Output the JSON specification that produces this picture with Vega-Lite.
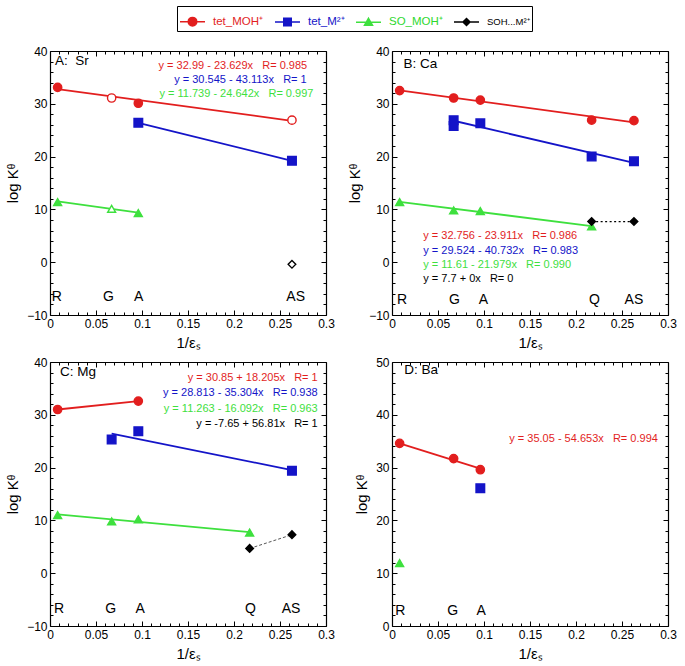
{
  "$schema": "https://vega.github.io/schema/vega-lite/v6.json",
  "padding": {"left": 5, "top": 5, "right": 5, "bottom": 3},
  "datasets": {
    "pts": [
      {"panel": "A", "series": "tet_MOH⁺", "x": 0.0083, "y": 33.1, "hollow": false},
      {"panel": "A", "series": "tet_MOH⁺", "x": 0.067, "y": 31.1, "hollow": true},
      {"panel": "A", "series": "tet_MOH⁺", "x": 0.096, "y": 30.1, "hollow": false},
      {"panel": "A", "series": "tet_MOH⁺", "x": 0.263, "y": 26.9, "hollow": true},
      {"panel": "A", "series": "tet_M²⁺", "x": 0.096, "y": 26.4, "hollow": false},
      {"panel": "A", "series": "tet_M²⁺", "x": 0.263, "y": 19.2, "hollow": false},
      {"panel": "A", "series": "SO_MOH⁺", "x": 0.0083, "y": 11.4, "hollow": false},
      {"panel": "A", "series": "SO_MOH⁺", "x": 0.067, "y": 10.1, "hollow": true},
      {"panel": "A", "series": "SO_MOH⁺", "x": 0.096, "y": 9.3, "hollow": false},
      {"panel": "A", "series": "SOH...M²⁺", "x": 0.263, "y": -0.4, "hollow": true},
      {"panel": "B", "series": "tet_MOH⁺", "x": 0.0083, "y": 32.5, "hollow": false},
      {"panel": "B", "series": "tet_MOH⁺", "x": 0.067, "y": 31.1, "hollow": false},
      {"panel": "B", "series": "tet_MOH⁺", "x": 0.096, "y": 30.7, "hollow": false},
      {"panel": "B", "series": "tet_MOH⁺", "x": 0.217, "y": 26.9, "hollow": false},
      {"panel": "B", "series": "tet_MOH⁺", "x": 0.263, "y": 26.8, "hollow": false},
      {"panel": "B", "series": "tet_M²⁺", "x": 0.067, "y": 26.9, "hollow": false},
      {"panel": "B", "series": "tet_M²⁺", "x": 0.067, "y": 25.8, "hollow": false},
      {"panel": "B", "series": "tet_M²⁺", "x": 0.096, "y": 26.3, "hollow": false},
      {"panel": "B", "series": "tet_M²⁺", "x": 0.217, "y": 20.0, "hollow": false},
      {"panel": "B", "series": "tet_M²⁺", "x": 0.263, "y": 19.1, "hollow": false},
      {"panel": "B", "series": "SO_MOH⁺", "x": 0.0083, "y": 11.4, "hollow": false},
      {"panel": "B", "series": "SO_MOH⁺", "x": 0.067, "y": 9.8, "hollow": false},
      {"panel": "B", "series": "SO_MOH⁺", "x": 0.096, "y": 9.7, "hollow": false},
      {"panel": "B", "series": "SO_MOH⁺", "x": 0.217, "y": 6.8, "hollow": false},
      {"panel": "B", "series": "SOH...M²⁺", "x": 0.217, "y": 7.7, "hollow": false},
      {"panel": "B", "series": "SOH...M²⁺", "x": 0.263, "y": 7.7, "hollow": false},
      {"panel": "C", "series": "tet_MOH⁺", "x": 0.0083, "y": 31.0, "hollow": false},
      {"panel": "C", "series": "tet_MOH⁺", "x": 0.096, "y": 32.6, "hollow": false},
      {"panel": "C", "series": "tet_M²⁺", "x": 0.067, "y": 25.3, "hollow": false},
      {"panel": "C", "series": "tet_M²⁺", "x": 0.096, "y": 26.9, "hollow": false},
      {"panel": "C", "series": "tet_M²⁺", "x": 0.263, "y": 19.4, "hollow": false},
      {"panel": "C", "series": "SO_MOH⁺", "x": 0.0083, "y": 11.0, "hollow": false},
      {"panel": "C", "series": "SO_MOH⁺", "x": 0.067, "y": 9.8, "hollow": false},
      {"panel": "C", "series": "SO_MOH⁺", "x": 0.096, "y": 10.2, "hollow": false},
      {"panel": "C", "series": "SO_MOH⁺", "x": 0.217, "y": 7.7, "hollow": false},
      {"panel": "C", "series": "SOH...M²⁺", "x": 0.217, "y": 4.7, "hollow": false},
      {"panel": "C", "series": "SOH...M²⁺", "x": 0.263, "y": 7.3, "hollow": false},
      {"panel": "D", "series": "tet_MOH⁺", "x": 0.0083, "y": 34.6, "hollow": false},
      {"panel": "D", "series": "tet_MOH⁺", "x": 0.067, "y": 31.7, "hollow": false},
      {"panel": "D", "series": "tet_MOH⁺", "x": 0.096, "y": 29.6, "hollow": false},
      {"panel": "D", "series": "tet_M²⁺", "x": 0.096, "y": 26.1, "hollow": false},
      {"panel": "D", "series": "SO_MOH⁺", "x": 0.0083, "y": 11.9, "hollow": false}
    ],
    "fits": [
      {"panel": "A", "series": "tet_MOH⁺", "x": 0.0083, "y": 32.79},
      {"panel": "A", "series": "tet_MOH⁺", "x": 0.263, "y": 26.78},
      {"panel": "A", "series": "tet_M²⁺", "x": 0.096, "y": 26.41},
      {"panel": "A", "series": "tet_M²⁺", "x": 0.263, "y": 19.21},
      {"panel": "A", "series": "SO_MOH⁺", "x": 0.0083, "y": 11.53},
      {"panel": "A", "series": "SO_MOH⁺", "x": 0.096, "y": 9.37},
      {"panel": "B", "series": "tet_MOH⁺", "x": 0.0083, "y": 32.56},
      {"panel": "B", "series": "tet_MOH⁺", "x": 0.263, "y": 26.47},
      {"panel": "B", "series": "tet_M²⁺", "x": 0.067, "y": 26.79},
      {"panel": "B", "series": "tet_M²⁺", "x": 0.263, "y": 18.81},
      {"panel": "B", "series": "SO_MOH⁺", "x": 0.0083, "y": 11.43},
      {"panel": "B", "series": "SO_MOH⁺", "x": 0.217, "y": 6.84},
      {"panel": "B", "series": "SOH...M²⁺", "x": 0.217, "y": 7.7},
      {"panel": "B", "series": "SOH...M²⁺", "x": 0.263, "y": 7.7},
      {"panel": "C", "series": "tet_MOH⁺", "x": 0.0083, "y": 31.0},
      {"panel": "C", "series": "tet_MOH⁺", "x": 0.096, "y": 32.6},
      {"panel": "C", "series": "tet_M²⁺", "x": 0.067, "y": 26.45},
      {"panel": "C", "series": "tet_M²⁺", "x": 0.263, "y": 19.53},
      {"panel": "C", "series": "SO_MOH⁺", "x": 0.0083, "y": 11.13},
      {"panel": "C", "series": "SO_MOH⁺", "x": 0.217, "y": 7.77},
      {"panel": "C", "series": "SOH...M²⁺", "x": 0.217, "y": 4.68},
      {"panel": "C", "series": "SOH...M²⁺", "x": 0.263, "y": 7.29},
      {"panel": "D", "series": "tet_MOH⁺", "x": 0.0083, "y": 34.6},
      {"panel": "D", "series": "tet_MOH⁺", "x": 0.096, "y": 29.8}
    ],
    "notes": [
      {"panel": "A", "series": "tet_MOH⁺", "x": 0.118, "y": 37.2, "text": "y = 32.99 - 23.629x\u00a0\u00a0\u00a0R= 0.985"},
      {"panel": "A", "series": "tet_M²⁺", "x": 0.135, "y": 34.5, "text": "y = 30.545 - 43.113x\u00a0\u00a0\u00a0R= 1"},
      {"panel": "A", "series": "SO_MOH⁺", "x": 0.119, "y": 31.9, "text": "y = 11.739 - 24.642x\u00a0\u00a0\u00a0R= 0.997"},
      {"panel": "B", "series": "tet_MOH⁺", "x": 0.034, "y": 4.9, "text": "y = 32.756 - 23.911x\u00a0\u00a0\u00a0R= 0.986"},
      {"panel": "B", "series": "tet_M²⁺", "x": 0.034, "y": 2.2, "text": "y = 29.524 - 40.732x\u00a0\u00a0\u00a0R= 0.983"},
      {"panel": "B", "series": "SO_MOH⁺", "x": 0.034, "y": -0.5, "text": "y = 11.61 - 21.979x\u00a0\u00a0\u00a0R= 0.990"},
      {"panel": "B", "series": "SOH...M²⁺", "x": 0.034, "y": -3.2, "text": "y = 7.7 + 0x\u00a0\u00a0\u00a0R= 0"},
      {"panel": "C", "series": "tet_MOH⁺", "x": 0.291, "y": 37.0, "text": "y = 30.85 + 18.205x\u00a0\u00a0\u00a0R= 1"},
      {"panel": "C", "series": "tet_M²⁺", "x": 0.291, "y": 34.2, "text": "y = 28.813 - 35.304x\u00a0\u00a0\u00a0R= 0.938"},
      {"panel": "C", "series": "SO_MOH⁺", "x": 0.291, "y": 31.1, "text": "y = 11.263 - 16.092x\u00a0\u00a0\u00a0R= 0.963"},
      {"panel": "C", "series": "SOH...M²⁺", "x": 0.291, "y": 28.3, "text": "y = -7.65 + 56.81x\u00a0\u00a0\u00a0R= 1"},
      {"panel": "D", "series": "tet_MOH⁺", "x": 0.289, "y": 35.4, "text": "y = 35.05 - 54.653x\u00a0\u00a0\u00a0R= 0.994"}
    ],
    "sites": [
      {"panel": "A", "x": 0.0075, "y": -6.5, "text": "R"},
      {"panel": "A", "x": 0.0636, "y": -6.5, "text": "G"},
      {"panel": "A", "x": 0.0964, "y": -6.5, "text": "A"},
      {"panel": "A", "x": 0.267, "y": -6.5, "text": "AS"},
      {"panel": "B", "x": 0.011, "y": -7.2, "text": "R"},
      {"panel": "B", "x": 0.068, "y": -7.2, "text": "G"},
      {"panel": "B", "x": 0.0995, "y": -7.2, "text": "A"},
      {"panel": "B", "x": 0.22, "y": -7.2, "text": "Q"},
      {"panel": "B", "x": 0.263, "y": -7.2, "text": "AS"},
      {"panel": "C", "x": 0.0098, "y": -6.7, "text": "R"},
      {"panel": "C", "x": 0.066, "y": -6.7, "text": "G"},
      {"panel": "C", "x": 0.098, "y": -6.7, "text": "A"},
      {"panel": "C", "x": 0.218, "y": -6.7, "text": "Q"},
      {"panel": "C", "x": 0.262, "y": -6.7, "text": "AS"},
      {"panel": "D", "x": 0.009, "y": 2.9, "text": "R"},
      {"panel": "D", "x": 0.066, "y": 2.9, "text": "G"},
      {"panel": "D", "x": 0.097, "y": 2.9, "text": "A"}
    ],
    "titles": [
      {"panel": "A", "x": 0.0055, "y": 38.1, "text": "A:\u00a0\u00a0Sr"},
      {"panel": "B", "x": 0.0126, "y": 37.5, "text": "B: Ca"},
      {"panel": "C", "x": 0.011, "y": 38.1, "text": "C: Mg"},
      {"panel": "D", "x": 0.0133, "y": 48.5, "text": "D: Ba"}
    ]
  },
  "columns": 2,
  "spacing": {"row": 47, "column": 66},
  "bounds": "flush",
  "concat": [
    {
      "width": 276, "height": 264,
      "resolve": {"axis": {"x": "independent", "y": "independent"}},
      "layer": [
        {
          "data": {"name": "fits"},
          "transform": [{"filter": "datum.panel === 'A'"}],
          "mark": {"type": "line", "strokeWidth": 1.8},
          "encoding": {
            "x": {"field": "x", "type": "quantitative", "scale": {"domain": [0, 0.3], "nice": false, "zero": false},
              "axis": {"orient": "bottom", "title": "1/εₛ", "values": [0,0.01,0.02,0.03,0.04,0.05,0.06,0.07,0.08,0.09,0.1,0.11,0.12,0.13,0.14,0.15,0.16,0.17,0.18,0.19,0.2,0.21,0.22,0.23,0.24,0.25,0.26,0.27,0.28,0.29,0.3], "format": "~g", "labelExpr": "abs(datum.value*20-round(datum.value*20)) < 0.001 ? datum.label : ''", "tickSize": {"condition": {"test": "abs(datum.value*20-round(datum.value*20)) < 0.001", "value": -5}, "value": -3}, "labelPadding": 8, "labelOverlap": false, "labelFlush": false, "titlePadding": 4}},
            "y": {"field": "y", "type": "quantitative", "scale": {"domain": [-10, 40], "nice": false, "zero": false},
              "axis": {"orient": "left", "title": "log Kᶿ", "values": [-10,-8,-6,-4,-2,0,2,4,6,8,10,12,14,16,18,20,22,24,26,28,30,32,34,36,38,40], "labelExpr": "datum.value % 10 === 0 ? datum.label : ''", "tickSize": {"condition": {"test": "datum.value % 10 === 0", "value": -5}, "value": -3}, "labelPadding": 8, "labelOverlap": false, "titlePadding": 6}},
            "color": {"field": "series", "type": "nominal",
              "scale": {"domain": ["tet_MOH⁺", "tet_M²⁺", "SO_MOH⁺", "SOH...M²⁺"], "range": ["#e21e1e", "#1414c8", "#3ee03e", "#000000"]},
              "legend": {
                "title": null, "orient": "none", "legendX": 127, "legendY": -45, "direction": "horizontal",
                "symbolSize": 625, "symbolStrokeWidth": 1.5, "labelFontSize": 11, "labelOffset": 7, "columnPadding": 8, "padding": 2,
                "strokeColor": "black", "fillColor": "white",
                "encode": {
                  "symbols": {"update": {
                    "shape": {"signal": "datum.value === 'tet_MOH⁺' ? 'M-1,0L1,0M0.34,0A0.34,0.34,0,1,1,-0.34,0A0.34,0.34,0,1,1,0.34,0Z' : datum.value === 'tet_M²⁺' ? 'M-1,0L1,0M-0.3,-0.3L0.3,-0.3L0.3,0.3L-0.3,0.3Z' : datum.value === 'SO_MOH⁺' ? 'M-1,0L1,0M0,-0.32L0.32,0.24L-0.32,0.24Z' : 'M-1,0L1,0M0,-0.28L0.28,0L0,0.28L-0.28,0Z'"},
                    "fill": {"signal": "datum.value === 'tet_MOH⁺' ? '#e21e1e' : datum.value === 'tet_M²⁺' ? '#1414c8' : datum.value === 'SO_MOH⁺' ? '#3ee03e' : '#000000'"},
                    "stroke": {"signal": "datum.value === 'tet_MOH⁺' ? '#e21e1e' : datum.value === 'tet_M²⁺' ? '#1414c8' : datum.value === 'SO_MOH⁺' ? '#3ee03e' : '#000000'"},
                    "strokeWidth": {"value": 1.5},
                    "fillOpacity": {"value": 1},
                    "strokeOpacity": {"value": 1},
                    "opacity": {"value": 1}
                  }},
                  "labels": {"update": {
                    "fill": {"signal": "datum.value === 'tet_MOH⁺' ? '#e21e1e' : datum.value === 'tet_M²⁺' ? '#1414c8' : datum.value === 'SO_MOH⁺' ? '#2ed82e' : '#000000'"},
                    "fontSize": {"signal": "datum.value === 'SOH...M²⁺' ? 9.5 : 11.5"}
                  }}
                }
              }
            }
          }
        },
        {
          "data": {"name": "pts"},
          "transform": [{"filter": "datum.panel === 'A'"}],
          "mark": {"type": "point", "strokeWidth": 1.4, "opacity": 1},
          "encoding": {
            "x": {"field": "x", "type": "quantitative", "axis": {"orient": "top", "title": null, "labels": false, "values": [0,0.01,0.02,0.03,0.04,0.05,0.06,0.07,0.08,0.09,0.1,0.11,0.12,0.13,0.14,0.15,0.16,0.17,0.18,0.19,0.2,0.21,0.22,0.23,0.24,0.25,0.26,0.27,0.28,0.29,0.3], "tickSize": {"condition": {"test": "abs(datum.value*20-round(datum.value*20)) < 0.001", "value": -5}, "value": -3}}},
            "y": {"field": "y", "type": "quantitative", "axis": {"orient": "right", "title": null, "labels": false, "values": [-10,-8,-6,-4,-2,0,2,4,6,8,10,12,14,16,18,20,22,24,26,28,30,32,34,36,38,40], "tickSize": {"condition": {"test": "datum.value % 10 === 0", "value": -5}, "value": -3}}},
            "shape": {"field": "series", "type": "nominal", "scale": {"domain": ["tet_M²⁺", "tet_MOH⁺", "SO_MOH⁺", "SOH...M²⁺"], "range": ["square", "circle", "triangle-up", "diamond"]}, "legend": null},
            "size": {"field": "series", "type": "ordinal", "scale": {"domain": ["tet_M²⁺", "tet_MOH⁺", "SO_MOH⁺", "SOH...M²⁺"], "range": [74, 58, 46, 44]}, "legend": null},
            "stroke": {"field": "series", "type": "nominal", "scale": {"domain": ["tet_M²⁺", "tet_MOH⁺", "SO_MOH⁺", "SOH...M²⁺"], "range": ["#1414c8", "#e21e1e", "#3ee03e", "#000000"]}, "legend": null},
            "fill": {"field": "series", "type": "nominal", "scale": {"domain": ["tet_M²⁺", "tet_MOH⁺", "SO_MOH⁺", "SOH...M²⁺"], "range": ["#1414c8", "#e21e1e", "#3ee03e", "#000000"]}, "legend": null, "condition": {"test": "datum.hollow", "value": "white"}}
          }
        },
        {
          "data": {"name": "notes"},
          "transform": [{"filter": "datum.panel === 'A'"}],
          "mark": {"type": "text", "align": "left", "baseline": "middle", "fontSize": 11},
          "encoding": {
            "x": {"field": "x", "type": "quantitative", "axis": null},
            "y": {"field": "y", "type": "quantitative", "axis": null},
            "text": {"field": "text"},
            "color": {"field": "series", "type": "nominal"}
          }
        },
        {
          "data": {"name": "sites"},
          "transform": [{"filter": "datum.panel === 'A'"}],
          "mark": {"type": "text", "align": "center", "baseline": "middle", "fontSize": 14, "color": "black"},
          "encoding": {
            "x": {"field": "x", "type": "quantitative", "axis": null},
            "y": {"field": "y", "type": "quantitative", "axis": null},
            "text": {"field": "text"}
          }
        },
        {
          "data": {"name": "titles"},
          "transform": [{"filter": "datum.panel === 'A'"}],
          "mark": {"type": "text", "align": "left", "baseline": "middle", "fontSize": 13.5, "color": "black"},
          "encoding": {
            "x": {"field": "x", "type": "quantitative", "axis": null},
            "y": {"field": "y", "type": "quantitative", "axis": null},
            "text": {"field": "text"}
          }
        }
      ]
    },
    {
      "width": 276, "height": 264,
      "resolve": {"axis": {"x": "independent", "y": "independent"}},
      "layer": [
        {
          "data": {"name": "fits"},
          "transform": [{"filter": "datum.panel === 'B' && datum.series !== 'SOH...M²⁺'"}],
          "mark": {"type": "line", "strokeWidth": 1.8},
          "encoding": {
            "x": {"field": "x", "type": "quantitative", "scale": {"domain": [0, 0.3], "nice": false, "zero": false},
              "axis": {"orient": "bottom", "title": "1/εₛ", "values": [0,0.01,0.02,0.03,0.04,0.05,0.06,0.07,0.08,0.09,0.1,0.11,0.12,0.13,0.14,0.15,0.16,0.17,0.18,0.19,0.2,0.21,0.22,0.23,0.24,0.25,0.26,0.27,0.28,0.29,0.3], "format": "~g", "labelExpr": "abs(datum.value*20-round(datum.value*20)) < 0.001 ? datum.label : ''", "tickSize": {"condition": {"test": "abs(datum.value*20-round(datum.value*20)) < 0.001", "value": -5}, "value": -3}, "labelPadding": 8, "labelOverlap": false, "labelFlush": false, "titlePadding": 4}},
            "y": {"field": "y", "type": "quantitative", "scale": {"domain": [-10, 40], "nice": false, "zero": false},
              "axis": {"orient": "left", "title": "log Kᶿ", "values": [-10,-8,-6,-4,-2,0,2,4,6,8,10,12,14,16,18,20,22,24,26,28,30,32,34,36,38,40], "labelExpr": "datum.value % 10 === 0 ? datum.label : ''", "tickSize": {"condition": {"test": "datum.value % 10 === 0", "value": -5}, "value": -3}, "labelPadding": 8, "labelOverlap": false, "titlePadding": 6}},
            "color": {"field": "series", "type": "nominal"}
          }
        },
        {
          "data": {"name": "fits"},
          "transform": [{"filter": "datum.panel === 'B' && datum.series === 'SOH...M²⁺'"}],
          "mark": {"type": "line", "strokeWidth": 1.3, "strokeDash": [2, 2.5], "color": "black"},
          "encoding": {
            "x": {"field": "x", "type": "quantitative", "axis": null},
            "y": {"field": "y", "type": "quantitative", "axis": null}
          }
        },
        {
          "data": {"name": "pts"},
          "transform": [{"filter": "datum.panel === 'B'"}],
          "mark": {"type": "point", "strokeWidth": 1.4, "opacity": 1},
          "encoding": {
            "x": {"field": "x", "type": "quantitative", "axis": {"orient": "top", "title": null, "labels": false, "values": [0,0.01,0.02,0.03,0.04,0.05,0.06,0.07,0.08,0.09,0.1,0.11,0.12,0.13,0.14,0.15,0.16,0.17,0.18,0.19,0.2,0.21,0.22,0.23,0.24,0.25,0.26,0.27,0.28,0.29,0.3], "tickSize": {"condition": {"test": "abs(datum.value*20-round(datum.value*20)) < 0.001", "value": -5}, "value": -3}}},
            "y": {"field": "y", "type": "quantitative", "axis": {"orient": "right", "title": null, "labels": false, "values": [-10,-8,-6,-4,-2,0,2,4,6,8,10,12,14,16,18,20,22,24,26,28,30,32,34,36,38,40], "tickSize": {"condition": {"test": "datum.value % 10 === 0", "value": -5}, "value": -3}}},
            "shape": {"field": "series", "type": "nominal", "legend": null},
            "size": {"field": "series", "type": "ordinal", "legend": null},
            "stroke": {"field": "series", "type": "nominal", "legend": null},
            "fill": {"field": "series", "type": "nominal", "legend": null, "condition": {"test": "datum.hollow", "value": "white"}}
          }
        },
        {
          "data": {"name": "notes"},
          "transform": [{"filter": "datum.panel === 'B'"}],
          "mark": {"type": "text", "align": "left", "baseline": "middle", "fontSize": 11},
          "encoding": {
            "x": {"field": "x", "type": "quantitative", "axis": null},
            "y": {"field": "y", "type": "quantitative", "axis": null},
            "text": {"field": "text"},
            "color": {"field": "series", "type": "nominal"}
          }
        },
        {
          "data": {"name": "sites"},
          "transform": [{"filter": "datum.panel === 'B'"}],
          "mark": {"type": "text", "align": "center", "baseline": "middle", "fontSize": 14, "color": "black"},
          "encoding": {
            "x": {"field": "x", "type": "quantitative", "axis": null},
            "y": {"field": "y", "type": "quantitative", "axis": null},
            "text": {"field": "text"}
          }
        },
        {
          "data": {"name": "titles"},
          "transform": [{"filter": "datum.panel === 'B'"}],
          "mark": {"type": "text", "align": "left", "baseline": "middle", "fontSize": 13.5, "color": "black"},
          "encoding": {
            "x": {"field": "x", "type": "quantitative", "axis": null},
            "y": {"field": "y", "type": "quantitative", "axis": null},
            "text": {"field": "text"}
          }
        }
      ]
    },
    {
      "width": 276, "height": 264,
      "resolve": {"axis": {"x": "independent", "y": "independent"}},
      "layer": [
        {
          "data": {"name": "fits"},
          "transform": [{"filter": "datum.panel === 'C' && datum.series !== 'SOH...M²⁺'"}],
          "mark": {"type": "line", "strokeWidth": 1.8},
          "encoding": {
            "x": {"field": "x", "type": "quantitative", "scale": {"domain": [0, 0.3], "nice": false, "zero": false},
              "axis": {"orient": "bottom", "title": "1/εₛ", "values": [0,0.01,0.02,0.03,0.04,0.05,0.06,0.07,0.08,0.09,0.1,0.11,0.12,0.13,0.14,0.15,0.16,0.17,0.18,0.19,0.2,0.21,0.22,0.23,0.24,0.25,0.26,0.27,0.28,0.29,0.3], "format": "~g", "labelExpr": "abs(datum.value*20-round(datum.value*20)) < 0.001 ? datum.label : ''", "tickSize": {"condition": {"test": "abs(datum.value*20-round(datum.value*20)) < 0.001", "value": -5}, "value": -3}, "labelPadding": 8, "labelOverlap": false, "labelFlush": false, "titlePadding": 4}},
            "y": {"field": "y", "type": "quantitative", "scale": {"domain": [-10, 40], "nice": false, "zero": false},
              "axis": {"orient": "left", "title": "log Kᶿ", "values": [-10,-8,-6,-4,-2,0,2,4,6,8,10,12,14,16,18,20,22,24,26,28,30,32,34,36,38,40], "labelExpr": "datum.value % 10 === 0 ? datum.label : ''", "tickSize": {"condition": {"test": "datum.value % 10 === 0", "value": -5}, "value": -3}, "labelPadding": 8, "labelOverlap": false, "titlePadding": 6}},
            "color": {"field": "series", "type": "nominal"}
          }
        },
        {
          "data": {"name": "fits"},
          "transform": [{"filter": "datum.panel === 'C' && datum.series === 'SOH...M²⁺'"}],
          "mark": {"type": "line", "strokeWidth": 0.9, "strokeDash": [3, 2], "color": "#444444"},
          "encoding": {
            "x": {"field": "x", "type": "quantitative", "axis": null},
            "y": {"field": "y", "type": "quantitative", "axis": null}
          }
        },
        {
          "data": {"name": "pts"},
          "transform": [{"filter": "datum.panel === 'C'"}],
          "mark": {"type": "point", "strokeWidth": 1.4, "opacity": 1},
          "encoding": {
            "x": {"field": "x", "type": "quantitative", "axis": {"orient": "top", "title": null, "labels": false, "values": [0,0.01,0.02,0.03,0.04,0.05,0.06,0.07,0.08,0.09,0.1,0.11,0.12,0.13,0.14,0.15,0.16,0.17,0.18,0.19,0.2,0.21,0.22,0.23,0.24,0.25,0.26,0.27,0.28,0.29,0.3], "tickSize": {"condition": {"test": "abs(datum.value*20-round(datum.value*20)) < 0.001", "value": -5}, "value": -3}}},
            "y": {"field": "y", "type": "quantitative", "axis": {"orient": "right", "title": null, "labels": false, "values": [-10,-8,-6,-4,-2,0,2,4,6,8,10,12,14,16,18,20,22,24,26,28,30,32,34,36,38,40], "tickSize": {"condition": {"test": "datum.value % 10 === 0", "value": -5}, "value": -3}}},
            "shape": {"field": "series", "type": "nominal", "legend": null},
            "size": {"field": "series", "type": "ordinal", "legend": null},
            "stroke": {"field": "series", "type": "nominal", "legend": null},
            "fill": {"field": "series", "type": "nominal", "legend": null, "condition": {"test": "datum.hollow", "value": "white"}}
          }
        },
        {
          "data": {"name": "notes"},
          "transform": [{"filter": "datum.panel === 'C'"}],
          "mark": {"type": "text", "align": "right", "baseline": "middle", "fontSize": 11},
          "encoding": {
            "x": {"field": "x", "type": "quantitative", "axis": null},
            "y": {"field": "y", "type": "quantitative", "axis": null},
            "text": {"field": "text"},
            "color": {"field": "series", "type": "nominal"}
          }
        },
        {
          "data": {"name": "sites"},
          "transform": [{"filter": "datum.panel === 'C'"}],
          "mark": {"type": "text", "align": "center", "baseline": "middle", "fontSize": 14, "color": "black"},
          "encoding": {
            "x": {"field": "x", "type": "quantitative", "axis": null},
            "y": {"field": "y", "type": "quantitative", "axis": null},
            "text": {"field": "text"}
          }
        },
        {
          "data": {"name": "titles"},
          "transform": [{"filter": "datum.panel === 'C'"}],
          "mark": {"type": "text", "align": "left", "baseline": "middle", "fontSize": 13.5, "color": "black"},
          "encoding": {
            "x": {"field": "x", "type": "quantitative", "axis": null},
            "y": {"field": "y", "type": "quantitative", "axis": null},
            "text": {"field": "text"}
          }
        }
      ]
    },
    {
      "width": 276, "height": 264,
      "resolve": {"axis": {"x": "independent", "y": "independent"}},
      "layer": [
        {
          "data": {"name": "fits"},
          "transform": [{"filter": "datum.panel === 'D'"}],
          "mark": {"type": "line", "strokeWidth": 1.8},
          "encoding": {
            "x": {"field": "x", "type": "quantitative", "scale": {"domain": [0, 0.3], "nice": false, "zero": false},
              "axis": {"orient": "bottom", "title": "1/εₛ", "values": [0,0.01,0.02,0.03,0.04,0.05,0.06,0.07,0.08,0.09,0.1,0.11,0.12,0.13,0.14,0.15,0.16,0.17,0.18,0.19,0.2,0.21,0.22,0.23,0.24,0.25,0.26,0.27,0.28,0.29,0.3], "format": "~g", "labelExpr": "abs(datum.value*20-round(datum.value*20)) < 0.001 ? datum.label : ''", "tickSize": {"condition": {"test": "abs(datum.value*20-round(datum.value*20)) < 0.001", "value": -5}, "value": -3}, "labelPadding": 8, "labelOverlap": false, "labelFlush": false, "titlePadding": 4}},
            "y": {"field": "y", "type": "quantitative", "scale": {"domain": [0, 50], "nice": false, "zero": false},
              "axis": {"orient": "left", "title": "log Kᶿ", "values": [0,2,4,6,8,10,12,14,16,18,20,22,24,26,28,30,32,34,36,38,40,42,44,46,48,50], "labelExpr": "datum.value % 10 === 0 ? datum.label : ''", "tickSize": {"condition": {"test": "datum.value % 10 === 0", "value": -5}, "value": -3}, "labelPadding": 8, "labelOverlap": false, "titlePadding": 6}},
            "color": {"field": "series", "type": "nominal"}
          }
        },
        {
          "data": {"name": "pts"},
          "transform": [{"filter": "datum.panel === 'D'"}],
          "mark": {"type": "point", "strokeWidth": 1.4, "opacity": 1},
          "encoding": {
            "x": {"field": "x", "type": "quantitative", "axis": {"orient": "top", "title": null, "labels": false, "values": [0,0.01,0.02,0.03,0.04,0.05,0.06,0.07,0.08,0.09,0.1,0.11,0.12,0.13,0.14,0.15,0.16,0.17,0.18,0.19,0.2,0.21,0.22,0.23,0.24,0.25,0.26,0.27,0.28,0.29,0.3], "tickSize": {"condition": {"test": "abs(datum.value*20-round(datum.value*20)) < 0.001", "value": -5}, "value": -3}}},
            "y": {"field": "y", "type": "quantitative", "axis": {"orient": "right", "title": null, "labels": false, "values": [0,2,4,6,8,10,12,14,16,18,20,22,24,26,28,30,32,34,36,38,40,42,44,46,48,50], "tickSize": {"condition": {"test": "datum.value % 10 === 0", "value": -5}, "value": -3}}},
            "shape": {"field": "series", "type": "nominal", "legend": null},
            "size": {"field": "series", "type": "ordinal", "legend": null},
            "stroke": {"field": "series", "type": "nominal", "legend": null},
            "fill": {"field": "series", "type": "nominal", "legend": null, "condition": {"test": "datum.hollow", "value": "white"}}
          }
        },
        {
          "data": {"name": "notes"},
          "transform": [{"filter": "datum.panel === 'D'"}],
          "mark": {"type": "text", "align": "right", "baseline": "middle", "fontSize": 11},
          "encoding": {
            "x": {"field": "x", "type": "quantitative", "axis": null},
            "y": {"field": "y", "type": "quantitative", "axis": null},
            "text": {"field": "text"},
            "color": {"field": "series", "type": "nominal"}
          }
        },
        {
          "data": {"name": "sites"},
          "transform": [{"filter": "datum.panel === 'D'"}],
          "mark": {"type": "text", "align": "center", "baseline": "middle", "fontSize": 14, "color": "black"},
          "encoding": {
            "x": {"field": "x", "type": "quantitative", "axis": null},
            "y": {"field": "y", "type": "quantitative", "axis": null},
            "text": {"field": "text"}
          }
        },
        {
          "data": {"name": "titles"},
          "transform": [{"filter": "datum.panel === 'D'"}],
          "mark": {"type": "text", "align": "left", "baseline": "middle", "fontSize": 13.5, "color": "black"},
          "encoding": {
            "x": {"field": "x", "type": "quantitative", "axis": null},
            "y": {"field": "y", "type": "quantitative", "axis": null},
            "text": {"field": "text"}
          }
        }
      ]
    }
  ],
  "config": {
    "font": "Liberation Sans",
    "view": {"stroke": null},
    "axis": {"grid": false, "domainColor": "black", "domainWidth": 1.2, "tickColor": "black", "tickWidth": 1, "labelColor": "black", "labelFontSize": 12, "labelFont": "Liberation Sans", "titleFont": "Liberation Sans", "titleFontSize": 15, "titleFontWeight": "normal", "titleColor": "black"},
    "text": {"font": "Liberation Sans"},
    "legend": {"labelFont": "Liberation Sans", "labelLimit": 200}
  }
}
